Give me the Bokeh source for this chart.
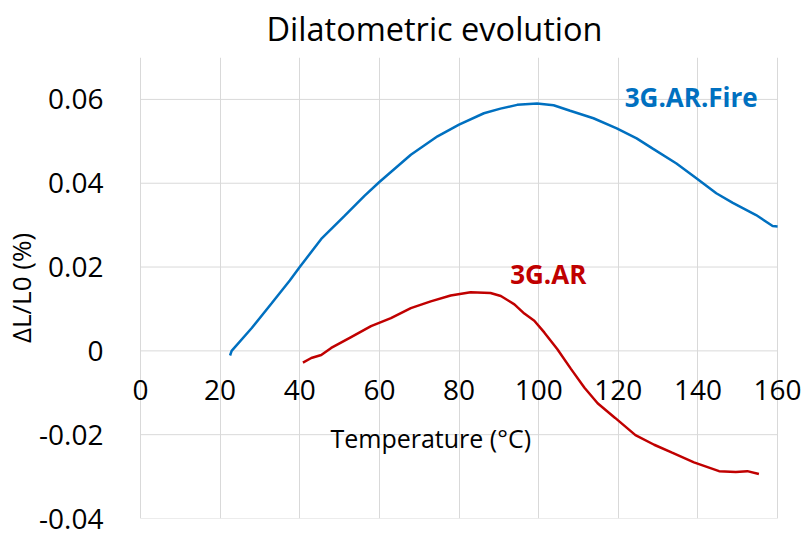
from bokeh.plotting import figure
from bokeh.models import FixedTicker, Range1d, ColumnDataSource, LabelSet, Label
from bokeh.core.properties import value
from bokeh.embed import file_html
from bokeh.resources import INLINE

# ---- data ----
fire_T = [22.5, 22.9, 27.9, 32.9, 37.5, 40.0, 45.4, 51.25, 56.25, 60.0, 67.9, 74.6, 80.0,
          86.25, 90.4, 94.6, 99.6, 103.75, 107.9, 113.75, 119.6, 124.6, 128.75, 134.6,
          139.6, 144.6, 148.75, 154.6, 158.75, 160.0]
fire_dL = [-0.0011, 0.0000, 0.0054, 0.0113, 0.0168, 0.0200, 0.0267, 0.0322, 0.0370, 0.0403,
           0.0468, 0.0512, 0.0540, 0.0567, 0.0578, 0.0587, 0.0590, 0.0586, 0.0573, 0.0555,
           0.0531, 0.0507, 0.0482, 0.0447, 0.0412, 0.0376, 0.0353, 0.0324, 0.0298, 0.0297]

ar_T = [40.8, 42.9, 45.4, 47.9, 52.9, 57.9, 62.9, 67.9, 72.9, 77.9, 82.9, 87.9, 90.5, 93.9,
        96.4, 98.9, 101.4, 104.7, 108.1, 111.5, 114.8, 119.2, 124.3, 129.0, 133.5,
        139.0, 145.3, 149.5, 152.4, 155.3]
ar_dL = [-0.0028, -0.0017, -0.0010, 0.0007, 0.0033, 0.0059, 0.0078, 0.0102, 0.0118, 0.0132,
         0.0140, 0.0138, 0.0131, 0.0111, 0.0089, 0.0072, 0.0044, 0.0004, -0.0043, -0.0088,
         -0.0125, -0.0160, -0.0201, -0.0224, -0.0243, -0.0266, -0.0287, -0.0289, -0.0287,
         -0.0294]

x_ticks = [0, 20, 40, 60, 80, 100, 120, 140, 160]
x_tick_labels = ["0", "20", "40", "60", "80", "100", "120", "140", "160"]
y_ticks = [-0.04, -0.02, 0.0, 0.02, 0.04, 0.06]
y_tick_labels = ["-0.04", "-0.02", "0", "0.02", "0.04", "0.06"]
y_min, y_max = -0.04, 0.07

series_names = ["3G.AR.Fire", "3G.AR"]
series_colors = ["#0070C0", "#C00000"]
label_x = [138.3, 102.4]
label_y = [0.0606, 0.0183]

title_text = "Dilatometric evolution"
x_title = "Temperature (°C)"
x_title_pos = 72.9
y_title = "ΔL/L0 (%)"

FONT = "Open Sans"
GRID = "#D9D9D9"

# the frame is a little wider than the 0..160 data span so that the
# tick labels drawn on the zero line are not clipped at its edges
p = figure(width=804, height=536, output_backend="svg", toolbar_location=None,
           x_range=Range1d(-2.5, 166.0), y_range=Range1d(y_min, y_max),
           min_border_left=129, min_border_right=3, min_border_top=55,
           min_border_bottom=18)

p.title.text = title_text
p.title.text_font = FONT
p.title.text_font_size = "32.5px"
p.title.text_font_style = "normal"
p.title.text_color = "#000000"
p.title.align = "left"
p.title.vertical_align = "top"
p.title.offset = 136
p.title.standoff = 10

p.outline_line_color = None
p.background_fill_color = "white"
p.border_fill_color = "white"

# vertical grid from the x ticks
p.xgrid.ticker = FixedTicker(ticks=x_ticks)
p.xgrid.grid_line_color = GRID
p.xgrid.grid_line_width = 1
# horizontal grid limited to the 0..160 data span
p.ygrid.grid_line_color = None
p.segment(x0=[x_ticks[0]] * len(y_ticks), x1=[x_ticks[-1]] * len(y_ticks),
          y0=y_ticks, y1=y_ticks, line_color=GRID, line_width=1)

# x axis hidden, labels drawn at the y=0 crossing
p.xaxis.visible = False

# y axis
yax = p.yaxis[0]
yax.ticker = FixedTicker(ticks=y_ticks)
yax.major_label_overrides = {t: l for t, l in zip(y_ticks, y_tick_labels)}
yax.major_label_text_font = FONT
yax.major_label_text_font_size = "28px"
yax.major_label_text_color = "#000000"
yax.major_label_standoff = 21
yax.major_tick_line_color = None
yax.minor_tick_line_color = None
yax.axis_line_color = None
yax.axis_label = y_title
yax.axis_label_text_font = FONT
yax.axis_label_text_font_size = "26px"
yax.axis_label_text_font_style = "normal"
yax.axis_label_text_color = "#000000"
yax.axis_label_standoff = -3

# curves
p.line(fire_T, fire_dL, line_color=series_colors[0], line_width=2.5)
p.line(ar_T, ar_dL, line_color=series_colors[1], line_width=2.5)

# x tick labels at the zero line
xs = ColumnDataSource(dict(x=x_ticks, y=[0.0] * len(x_ticks), t=x_tick_labels))
p.add_layout(LabelSet(x="x", y="y", text="t", source=xs, y_offset=-39,
                      text_align="center", text_baseline="middle",
                      text_font=value(FONT), text_font_size="28px",
                      text_color="#000000"))

# x axis title
p.add_layout(Label(x=x_title_pos, y=0.0, text=x_title, y_offset=-87,
                   text_align="center", text_baseline="middle",
                   text_font=FONT, text_font_size="25px", text_color="#000000"))

# series labels
ls = ColumnDataSource(dict(x=label_x, y=label_y, t=series_names, c=series_colors))
p.add_layout(LabelSet(x="x", y="y", text="t", text_color="c", source=ls,
                      text_align="center", text_baseline="middle",
                      text_font=value(FONT), text_font_size="26px",
                      text_font_style="bold"))

open("out.html", "w").write(file_html(p, INLINE))
